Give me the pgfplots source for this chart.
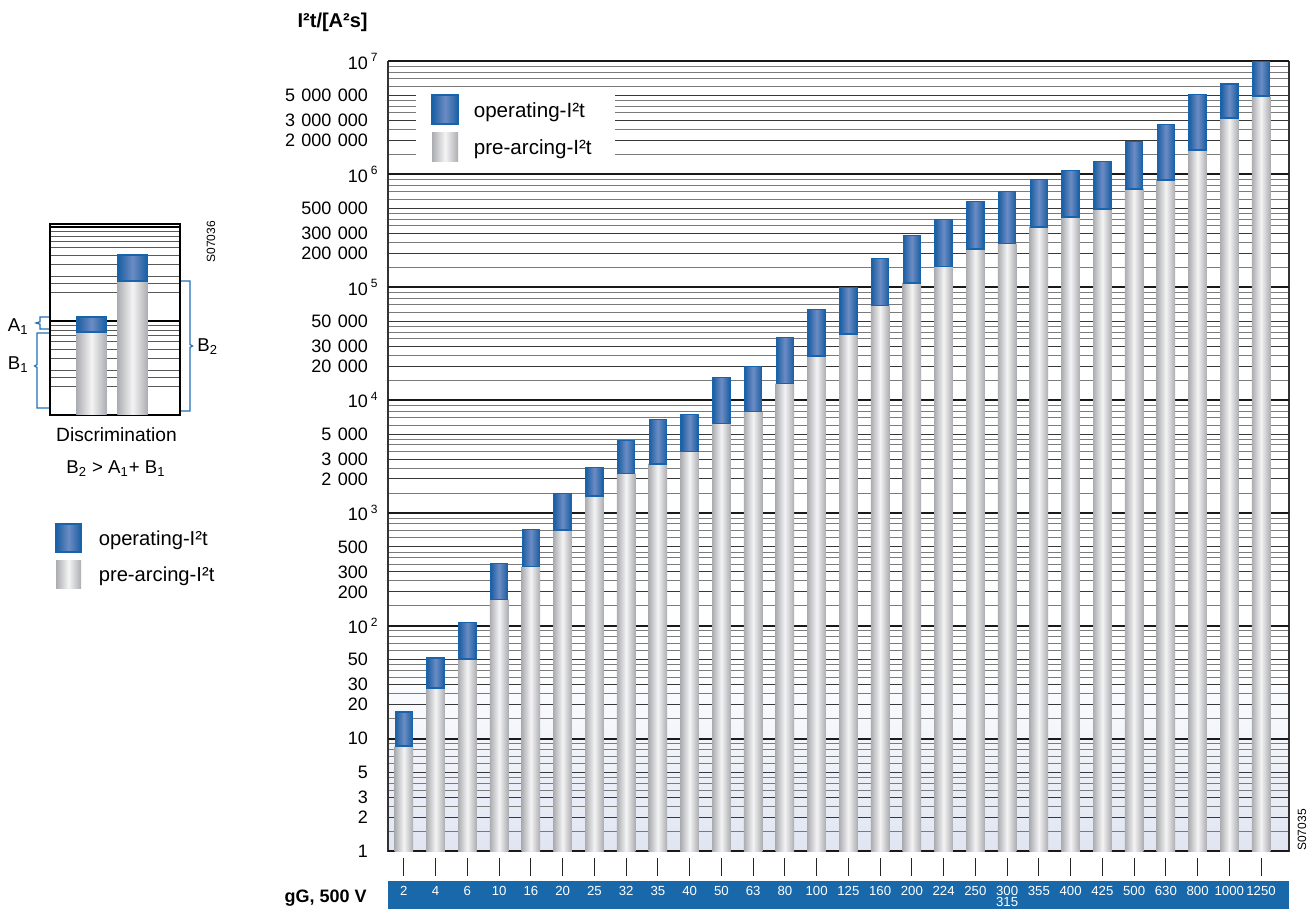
\documentclass[border=0pt]{standalone}
\usepackage{fontspec}
\setmainfont{Liberation Sans}
\usepackage{pgfplots}
\usepackage{pgfplotstable}
\pgfplotsset{compat=1.18}
\definecolor{greyedge}{RGB}{172,173,177}
\definecolor{greymid}{RGB}{244,244,245}
\definecolor{opedge}{RGB}{28,94,162}
\definecolor{opmid}{RGB}{108,140,196}
\definecolor{opborder}{RGB}{24,100,172}
\definecolor{stripblue}{RGB}{24,104,170}
\definecolor{bgblue}{RGB}{224,229,242}
\definecolor{annblue}{RGB}{30,110,180}
\pgfdeclareverticalshading{bgshade}{100bp}{color(0bp)=(bgblue); color(25bp)=(bgblue); color(37bp)=(white); color(100bp)=(white)}
\tikzset{
  prebar/.style={left color=greyedge, right color=greyedge, middle color=greymid, draw=none},
  opbar/.style={left color=opedge, right color=opedge, middle color=opmid, draw=opborder, line width=0.7pt},
}
\newcommand\dec[1]{10\rlap{\,\textsuperscript{#1}}}
\newcommand\gs{\hspace{3.2pt}}

\pgfplotstableread{
x pre op
0 8.6 17.2
1 28 52
2 51 107
3 171 356
4 334 711
5 705 1480
6 1420 2520
7 2230 4370
8 2730 6700
9 3490 7430
10 6180 15800
11 7890 19760
12 13970 35700
13 24700 63200
14 38700 99000
15 68600 178700
16 109600 285800
17 152000 396000
18 219000 572000
19 243000 701000
20 343600 896000
21 421000 1077000
22 495700 1294000
23 745000 1945000
24 896000 2750000
25 1650000 5070000
26 3170000 6340000
27 4920000 9980000
}\fusedata

\begin{document}
\begin{tikzpicture}
\useasboundingbox (0,0) rectangle (658pt,454.5pt);
\fill[stripblue] (194pt,0pt) rectangle (644.5pt,14pt);

\begin{axis}[
  at={(194pt,28.75pt)}, anchor=south west,
  scale only axis, width=450.5pt, height=395pt,
  ymode=log, ymin=1, ymax=1e7,
  xmin=-0.5, xmax=27.88,
  axis background/.style={shade, shading=bgshade},
  xtick={0,...,27},
  xticklabels={2,4,6,10,16,20,25,32,35,40,50,63,80,100,125,160,200,224,250,{\vtop{\baselineskip=5.5pt\hbox{300}\hbox{315}}},355,400,425,500,630,800,1000,1250},
  xtick pos=bottom,
  tick align=inside,
  major tick length=9pt,
  minor tick length=0pt,
  xtick style={draw=black!85, line width=0.55pt, yshift=-12.25pt},
  xticklabel style={anchor=base, yshift=-22.25pt, text=white, font=\fontsize{6.6}{8}\selectfont},
  ytick={1,2,3,5,10,20,30,50,100,200,300,500,1000,2000,3000,5000,1e4,2e4,3e4,5e4,1e5,2e5,3e5,5e5,1e6,2e6,3e6,5e6,1e7},
  yticklabels={1,2,3,5,10,20,30,50,\dec{2},200,300,500,\dec{3},2\gs000,3\gs000,5\gs000,\dec{4},20\gs000,30\gs000,50\gs000,\dec{5},200\gs000,300\gs000,500\gs000,\dec{6},2\gs000\gs000,3\gs000\gs000,5\gs000\gs000,\dec{7}},
  minor ytick={1.5,2.5,3.5,4,4.5,6,7,8,9,
    15,25,35,40,45,60,70,80,90,
    150,250,350,400,450,600,700,800,900,
    1500,2500,3500,4000,4500,6000,7000,8000,9000,
    15000,25000,35000,40000,45000,60000,70000,80000,90000,
    150000,250000,350000,400000,450000,600000,700000,800000,900000,
    1.5e6,2.5e6,3.5e6,4e6,4.5e6,6e6,7e6,8e6,9e6},
  ytick style={draw=none},
  ymajorgrids, yminorgrids,
  major grid style={black!78, line width=0.5pt},
  minor grid style={black!52, line width=0.5pt},
  extra y ticks={1,10,100,1000,1e4,1e5,1e6,1e7},
  extra y tick labels={},
  extra y tick style={major grid style={black!90, line width=1pt}},
  yticklabel style={font=\fontsize{9}{11}\selectfont, xshift=-6.5pt},
  axis line style={black!80, line width=0.7pt},
  legend style={at={(0.0311,0.9677)}, anchor=north west, draw=none, fill=white,
    inner xsep=7.5pt, inner ysep=3.5pt, row sep=4pt, column sep=7.5pt,
    font=\fontsize{10.3}{12}\selectfont, nodes={inner sep=0pt, anchor=base west}},
]
\pgfplotsforeachungrouped \i in {0,...,27}{%
  \pgfplotstablegetelem{\i}{op}\of\fusedata \let\opv=\pgfplotsretval
  \pgfplotstablegetelem{\i}{pre}\of\fusedata \let\prev=\pgfplotsretval
  \edef\temp{%
    \noexpand\addplot[ybar, bar width=8.5pt, bar shift=0pt, opbar, forget plot] coordinates {(\i,\opv)};
    \noexpand\addplot[ybar, bar width=9.2pt, bar shift=0pt, prebar, forget plot] coordinates {(\i,\prev)};
  }%
  \temp
}
\addplot[only marks, mark=-, mark size=4.6pt, mark options={draw=opborder, line width=0.8pt}, forget plot]
  table[x=x, y=pre] {\fusedata};
\addlegendimage{legend image code/.code={\path[opbar] (0pt,-3.5pt) rectangle (13pt,11pt);}}
\addlegendentry{operating-I²t\hspace*{4pt}}
\addlegendimage{legend image code/.code={\path[prebar] (0pt,-3.5pt) rectangle (13pt,11pt);}}
\addlegendentry{pre-arcing-I²t\hspace*{4pt}}
\end{axis}

\begin{axis}[
  at={(25pt,247pt)}, anchor=south west,
  scale only axis, width=65pt, height=95.5pt,
  ymode=log, ymin=1, ymax=107.7, xmin=-0.012, xmax=3.16,
  xtick=\empty, ytick={10,100}, yticklabels={},
  minor ytick={2,2.5,3,4,5,6,7,8,9,20,25,30,40,50,60,70,80,90},
  ymajorgrids, yminorgrids,
  major grid style={black, line width=0.8pt},
  minor grid style={black!65, line width=0.45pt},
  ytick style={draw=none}, major tick length=0pt, minor tick length=0pt,
  axis line style={black, line width=0.9pt},
  legend style={at={(0.0385,-0.565)}, anchor=north west, draw=none, fill=none,
    inner sep=0pt, row sep=4pt, column sep=8.5pt,
    font=\fontsize{10.1}{12}\selectfont, nodes={inner sep=0pt, anchor=base west}},
]
\addplot[ybar, bar width=14.5pt, bar shift=0pt, opbar, forget plot] coordinates {(1,11.0)};
\addplot[ybar, bar width=14.5pt, bar shift=0pt, opbar, forget plot] coordinates {(2,50.4)};
\addplot[ybar, bar width=15.2pt, bar shift=0pt, prebar, forget plot] coordinates {(1,7.64)};
\addplot[ybar, bar width=15.2pt, bar shift=0pt, prebar, forget plot] coordinates {(2,26.6)};
\addplot[only marks, mark=-, mark size=7.6pt, mark options={draw=opborder, line width=0.8pt}, forget plot]
  coordinates {(1,7.64) (2,26.6)};
\addlegendimage{legend image code/.code={\path[opbar] (0pt,-3.5pt) rectangle (12.5pt,10.5pt);}}
\addlegendentry{operating-I²t}
\addlegendimage{legend image code/.code={\path[prebar] (0pt,-3.5pt) rectangle (12.5pt,10.5pt);}}
\addlegendentry{pre-arcing-I²t}
\end{axis}

% annotations of the inset
\draw[annblue, line width=0.6pt] (24.5pt,296pt) -- (20pt,296pt) -- (20pt,293.6pt) -- (18pt,293pt) -- (20pt,292.4pt) -- (20pt,290pt) -- (24.5pt,290pt);
\draw[annblue, line width=0.6pt] (24.5pt,288pt) -- (18.5pt,288pt) -- (18.5pt,272.2pt) -- (17.3pt,271.5pt) -- (18.5pt,270.8pt) -- (18.5pt,250.5pt) -- (24.5pt,250.5pt);
\draw[annblue, line width=0.6pt] (90.5pt,314pt) -- (95pt,314pt) -- (95pt,282.2pt) -- (96.3pt,281.5pt) -- (95pt,280.8pt) -- (95pt,249pt) -- (90.5pt,249pt);
\node[anchor=base west, inner sep=0pt, font=\fontsize{9.3}{11}\selectfont] at (3.8pt,288.5pt) {A\textsubscript{1}};
\node[anchor=base west, inner sep=0pt, font=\fontsize{9.3}{11}\selectfont] at (3.8pt,269.5pt) {B\textsubscript{1}};
\node[anchor=base west, inner sep=0pt, font=\fontsize{9.3}{11}\selectfont] at (98.5pt,278.5pt) {B\textsubscript{2}};
\node[anchor=base, inner sep=0pt, font=\fontsize{9.6}{11}\selectfont] at (58.25pt,233.5pt) {Discrimination};
\node[anchor=base, inner sep=0pt, font=\fontsize{9.3}{11}\selectfont] at (58pt,217.5pt) {B\textsubscript{2} > A\textsubscript{1}+ B\textsubscript{1}};
\node[rotate=90, inner sep=0pt, font=\fontsize{6}{7}\selectfont] at (105.5pt,333.5pt) {S07036};
\node[rotate=90, inner sep=0pt, font=\fontsize{6}{7}\selectfont] at (651pt,39.5pt) {S07035};

% titles
\node[anchor=base east, inner sep=0pt, font=\bfseries\fontsize{10}{12}\selectfont] at (184pt,440.5pt) {I²t/[A²s]};
\node[anchor=base east, inner sep=0pt, font=\bfseries\fontsize{9}{11}\selectfont] at (183.5pt,3pt) {gG, 500 V};
\end{tikzpicture}
\end{document}
